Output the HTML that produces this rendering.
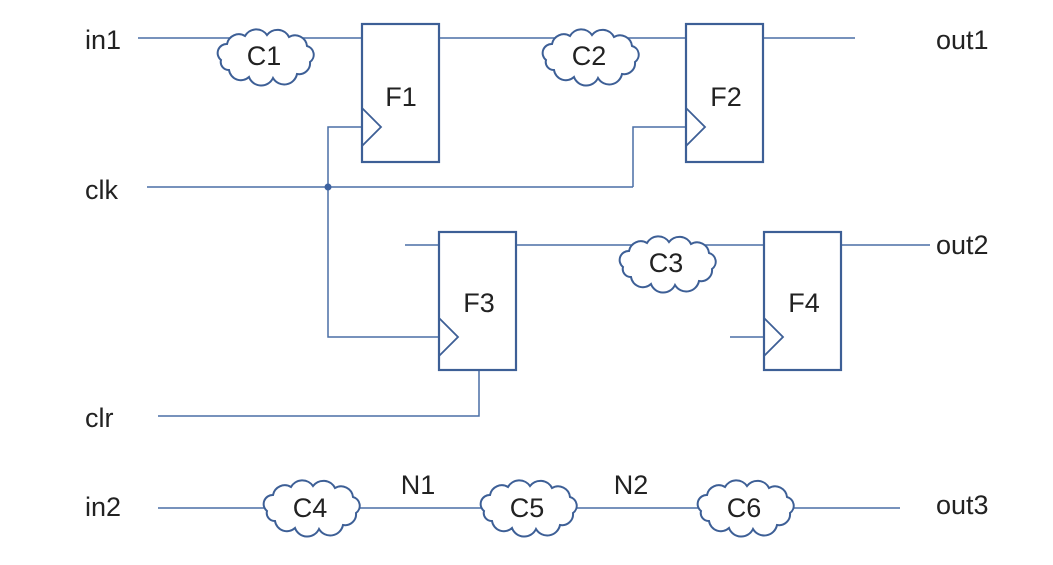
<!DOCTYPE html>
<html><head><meta charset="utf-8"><style>
html,body{margin:0;padding:0;background:#fff;}
svg{display:block;}
text{font-family:"Liberation Sans","Noto Sans CJK SC",sans-serif;font-size:27px;fill:#222;}
</style></head><body>
<svg width="1053" height="565" viewBox="0 0 1053 565" xmlns="http://www.w3.org/2000/svg">
<g stroke="#4a6fa5" stroke-width="1.5" fill="none">
<line x1="138" y1="38" x2="362" y2="38"/>
<line x1="439" y1="38" x2="686" y2="38"/>
<line x1="763" y1="38" x2="855" y2="38"/>
<line x1="147" y1="187" x2="633" y2="187"/>
<polyline points="633,187 633,127 686,127"/>
<polyline points="362,127 328,127 328,337 439,337"/>
<line x1="405" y1="245" x2="439" y2="245"/>
<line x1="516" y1="245" x2="764" y2="245"/>
<line x1="841" y1="245" x2="930" y2="245"/>
<line x1="730" y1="337" x2="764" y2="337"/>
<polyline points="158,416 479,416 479,370"/>
<line x1="158" y1="508" x2="900" y2="508"/>
</g>
<circle cx="328" cy="187" r="3.5" fill="#3d62a0"/>
<g stroke="#3d5f96" stroke-width="2.2" fill="#fff">
<rect x="362" y="24" width="77" height="138"/>
<rect x="686" y="24" width="77" height="138"/>
<rect x="439" y="232" width="77" height="138"/>
<rect x="764" y="232" width="77" height="138"/>
</g>
<g stroke="#3d5f96" stroke-width="1.8" fill="none">
<polyline points="362,108 381,127 362,146"/>
<polyline points="686,108 705,127 686,146"/>
<polyline points="439,318 458,337 439,356"/>
<polyline points="764,318 783,337 764,356"/>
</g>
<g stroke="#3d5f96" stroke-width="2" fill="#fff">
<path transform="translate(265,56)" d="M-44,4 A9,9 0 0 1 -38,-12 A12,12 0 0 1 -20,-20 A13,13 0 0 1 2,-21 A13,13 0 0 1 24,-19 A12,12 0 0 1 42,-10 A9,9 0 0 1 45,6 A11,11 0 0 1 32,18 A13,13 0 0 1 8,22 A13,13 0 0 1 -16,21 A12,12 0 0 1 -36,14 A8,8 0 0 1 -44,4 Z"/>
<path transform="translate(590,56)" d="M-44,4 A9,9 0 0 1 -38,-12 A12,12 0 0 1 -20,-20 A13,13 0 0 1 2,-21 A13,13 0 0 1 24,-19 A12,12 0 0 1 42,-10 A9,9 0 0 1 45,6 A11,11 0 0 1 32,18 A13,13 0 0 1 8,22 A13,13 0 0 1 -16,21 A12,12 0 0 1 -36,14 A8,8 0 0 1 -44,4 Z"/>
<path transform="translate(667,263)" d="M-44,4 A9,9 0 0 1 -38,-12 A12,12 0 0 1 -20,-20 A13,13 0 0 1 2,-21 A13,13 0 0 1 24,-19 A12,12 0 0 1 42,-10 A9,9 0 0 1 45,6 A11,11 0 0 1 32,18 A13,13 0 0 1 8,22 A13,13 0 0 1 -16,21 A12,12 0 0 1 -36,14 A8,8 0 0 1 -44,4 Z"/>
<path transform="translate(311,507)" d="M-44,4 A9,9 0 0 1 -38,-12 A12,12 0 0 1 -20,-20 A13,13 0 0 1 2,-21 A13,13 0 0 1 24,-19 A12,12 0 0 1 42,-10 A9,9 0 0 1 45,6 A11,11 0 0 1 32,18 A13,13 0 0 1 8,22 A13,13 0 0 1 -16,21 A12,12 0 0 1 -36,14 A8,8 0 0 1 -44,4 Z"/>
<path transform="translate(528,507)" d="M-44,4 A9,9 0 0 1 -38,-12 A12,12 0 0 1 -20,-20 A13,13 0 0 1 2,-21 A13,13 0 0 1 24,-19 A12,12 0 0 1 42,-10 A9,9 0 0 1 45,6 A11,11 0 0 1 32,18 A13,13 0 0 1 8,22 A13,13 0 0 1 -16,21 A12,12 0 0 1 -36,14 A8,8 0 0 1 -44,4 Z"/>
<path transform="translate(745,507)" d="M-44,4 A9,9 0 0 1 -38,-12 A12,12 0 0 1 -20,-20 A13,13 0 0 1 2,-21 A13,13 0 0 1 24,-19 A12,12 0 0 1 42,-10 A9,9 0 0 1 45,6 A11,11 0 0 1 32,18 A13,13 0 0 1 8,22 A13,13 0 0 1 -16,21 A12,12 0 0 1 -36,14 A8,8 0 0 1 -44,4 Z"/>
</g>
<g text-anchor="middle">
<text x="264" y="65">C1</text>
<text x="589" y="65">C2</text>
<text x="666" y="272">C3</text>
<text x="310" y="517">C4</text>
<text x="527" y="517">C5</text>
<text x="744" y="517">C6</text>
<text x="401" y="106">F1</text>
<text x="726" y="106">F2</text>
<text x="479" y="312">F3</text>
<text x="804" y="312">F4</text>
<text x="418" y="494">N1</text>
<text x="631" y="494">N2</text>
</g>
<text x="85" y="49">in1</text>
<text x="85" y="199">clk</text>
<text x="85" y="427">clr</text>
<text x="85" y="516">in2</text>
<text x="936" y="49">out1</text>
<text x="936" y="254">out2</text>
<text x="936" y="514">out3</text>
</svg>
</body></html>
